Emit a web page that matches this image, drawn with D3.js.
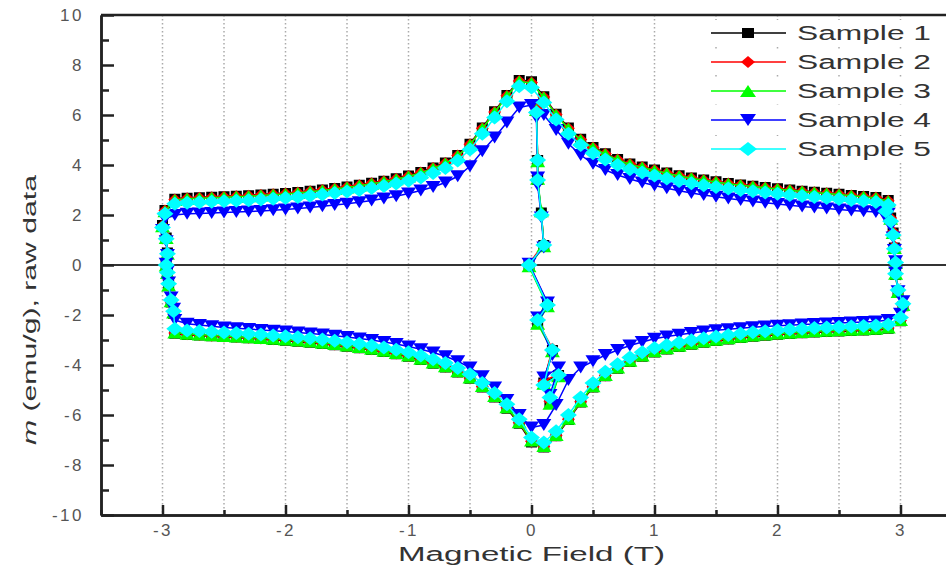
<!DOCTYPE html>
<html lang="en">
<head>
<meta charset="UTF-8">
<script src="https://cdn.jsdelivr.net/npm/d3@7"></script>
<title>Raw magnetisation loops</title>
<style>
    body { margin: 0; background: #fff; }
    svg { display: block; font-family: "Liberation Sans", Arial, sans-serif; }
    .axis path, .axis line { stroke: #222; stroke-width: 2.5; }
    .axis text { fill: #555; letter-spacing: 2.5px; }
</style>
</head>
<body>
<svg id="chart" width="946" height="569"></svg>
<script>
    // field values (T) of each branch
    var fieldsUpper = [2.9, 2.8, 2.7, 2.6, 2.5, 2.4, 2.3, 2.2, 2.1, 2.0, 1.9, 1.8, 1.7, 1.6, 1.5, 1.4, 1.3, 1.2, 1.1, 1.0,
        0.9, 0.8, 0.7, 0.6, 0.5, 0.4, 0.3, 0.2, 0.1, 0.0, -0.1, -0.2, -0.3, -0.4, -0.5, -0.6, -0.7, -0.8, -0.9, -1.0,
        -1.1, -1.2, -1.3, -1.4, -1.5, -1.6, -1.7, -1.8, -1.9, -2.0, -2.1, -2.2, -2.3, -2.4, -2.5, -2.6, -2.7, -2.8, -2.9];
    var fieldsLower = [-2.9, -2.8, -2.7, -2.6, -2.5, -2.4, -2.3, -2.2, -2.1, -2.0, -1.9, -1.8, -1.7, -1.6, -1.5, -1.4, -1.3, -1.2, -1.1, -1.0,
        -0.9, -0.8, -0.7, -0.6, -0.5, -0.4, -0.3, -0.2, -0.1, 0.0, 0.1, 0.2, 0.3, 0.4, 0.5, 0.6, 0.7, 0.8, 0.9, 1.0,
        1.1, 1.2, 1.3, 1.4, 1.5, 1.6, 1.7, 1.8, 1.9, 2.0, 2.1, 2.2, 2.3, 2.4, 2.5, 2.6, 2.7, 2.8, 2.9];
    var fieldsJumpPos = [3.00, 3.02, 2.98, 2.96, 2.96, 2.95, 2.94, 2.92, 2.88];
    var fieldsJumpNeg = [-2.98, -3.00, -2.97, -2.96, -2.97, -2.96, -2.95, -2.93, -2.91];
    var fieldsStart = [0.04, 0.05, 0.05, 0.08, 0.10, -0.02, 0.13, 0.05, 0.17, 0.10, 0.22, 0.15];

    // m (emu/g) per sample
    var upper1 = [2.60, 2.72, 2.76, 2.80, 2.85, 2.89, 2.93, 2.97, 3.02, 3.07, 3.12, 3.17, 3.22, 3.28, 3.35, 3.42, 3.50, 3.59, 3.70, 3.82,
        3.94, 4.06, 4.24, 4.47, 4.72, 5.05, 5.50, 6.05, 6.75, 7.35, 7.40, 6.80, 6.15, 5.50, 4.85, 4.40, 4.10, 3.90, 3.72, 3.58,
        3.47, 3.37, 3.29, 3.21, 3.14, 3.08, 3.02, 2.97, 2.92, 2.88, 2.85, 2.82, 2.79, 2.77, 2.75, 2.73, 2.71, 2.69, 2.65];
    var upper2 = [2.57, 2.70, 2.74, 2.78, 2.83, 2.87, 2.91, 2.95, 3.00, 3.05, 3.10, 3.15, 3.20, 3.26, 3.33, 3.40, 3.48, 3.57, 3.68, 3.80,
        3.92, 4.04, 4.22, 4.45, 4.70, 5.02, 5.47, 6.02, 6.72, 7.30, 7.36, 6.77, 6.12, 5.47, 4.83, 4.38, 4.08, 3.88, 3.70, 3.56,
        3.45, 3.35, 3.27, 3.19, 3.12, 3.06, 3.00, 2.95, 2.90, 2.86, 2.83, 2.80, 2.77, 2.75, 2.73, 2.71, 2.69, 2.67, 2.62];
    var upper3 = [2.55, 2.68, 2.73, 2.77, 2.82, 2.86, 2.90, 2.94, 2.99, 3.04, 3.09, 3.14, 3.19, 3.25, 3.32, 3.39, 3.47, 3.56, 3.67, 3.78,
        3.90, 4.02, 4.20, 4.43, 4.68, 5.00, 5.45, 6.00, 6.70, 7.28, 7.34, 6.75, 6.10, 5.45, 4.81, 4.36, 4.06, 3.86, 3.68, 3.54,
        3.43, 3.33, 3.25, 3.17, 3.10, 3.04, 2.98, 2.93, 2.88, 2.84, 2.81, 2.78, 2.75, 2.73, 2.71, 2.69, 2.67, 2.65, 2.60];
    var upper4 = [2.05, 2.12, 2.15, 2.18, 2.22, 2.26, 2.30, 2.34, 2.39, 2.44, 2.49, 2.54, 2.60, 2.66, 2.73, 2.80, 2.88, 2.97, 3.07, 3.18,
        3.30, 3.44, 3.60, 3.80, 4.05, 4.40, 4.85, 5.40, 6.00, 6.40, 6.30, 5.70, 5.10, 4.55, 3.95, 3.55, 3.30, 3.12, 2.98, 2.86,
        2.75, 2.66, 2.58, 2.51, 2.45, 2.40, 2.35, 2.30, 2.26, 2.22, 2.19, 2.16, 2.14, 2.12, 2.10, 2.08, 2.06, 2.05, 2.00];
    var upper5 = [2.40, 2.52, 2.56, 2.60, 2.64, 2.68, 2.72, 2.76, 2.80, 2.85, 2.90, 2.95, 3.00, 3.06, 3.12, 3.19, 3.27, 3.36, 3.46, 3.58,
        3.70, 3.83, 4.00, 4.22, 4.47, 4.80, 5.25, 5.82, 6.50, 7.10, 7.15, 6.55, 5.90, 5.25, 4.62, 4.18, 3.88, 3.68, 3.50, 3.37,
        3.26, 3.16, 3.08, 3.00, 2.94, 2.88, 2.82, 2.77, 2.72, 2.68, 2.65, 2.62, 2.59, 2.57, 2.55, 2.53, 2.51, 2.49, 2.45];

    var lower1 = [-2.75, -2.80, -2.82, -2.85, -2.88, -2.90, -2.93, -2.96, -3.00, -3.03, -3.07, -3.11, -3.16, -3.21, -3.27, -3.33, -3.40, -3.48, -3.57, -3.67,
        -3.80, -3.95, -4.10, -4.30, -4.55, -4.90, -5.30, -5.75, -6.35, -7.10, -7.30, -6.85, -6.20, -5.50, -4.90, -4.45, -4.15, -3.88, -3.67, -3.50,
        -3.38, -3.28, -3.19, -3.11, -3.04, -2.98, -2.92, -2.87, -2.83, -2.79, -2.76, -2.73, -2.70, -2.68, -2.66, -2.64, -2.62, -2.60, -2.55];
    var lower2 = [-2.72, -2.77, -2.80, -2.83, -2.86, -2.88, -2.91, -2.94, -2.97, -3.00, -3.04, -3.08, -3.13, -3.18, -3.24, -3.30, -3.37, -3.45, -3.54, -3.64,
        -3.77, -3.92, -4.07, -4.27, -4.52, -4.86, -5.26, -5.71, -6.31, -7.05, -7.26, -6.82, -6.17, -5.47, -4.87, -4.42, -4.12, -3.85, -3.64, -3.47,
        -3.35, -3.25, -3.16, -3.08, -3.01, -2.95, -2.89, -2.84, -2.80, -2.76, -2.73, -2.70, -2.67, -2.65, -2.63, -2.61, -2.59, -2.57, -2.52];
    var lower3 = [-2.70, -2.75, -2.78, -2.81, -2.84, -2.86, -2.89, -2.92, -2.95, -2.98, -3.02, -3.06, -3.11, -3.16, -3.22, -3.28, -3.35, -3.43, -3.52, -3.62,
        -3.75, -3.90, -4.05, -4.25, -4.50, -4.84, -5.24, -5.69, -6.29, -7.02, -7.24, -6.80, -6.15, -5.45, -4.85, -4.40, -4.10, -3.83, -3.62, -3.45,
        -3.33, -3.23, -3.14, -3.06, -2.99, -2.93, -2.87, -2.82, -2.78, -2.74, -2.71, -2.68, -2.65, -2.63, -2.61, -2.59, -2.57, -2.55, -2.50];
    var lower4 = [-2.20, -2.35, -2.40, -2.45, -2.50, -2.53, -2.56, -2.60, -2.63, -2.66, -2.70, -2.74, -2.78, -2.83, -2.88, -2.94, -3.00, -3.08, -3.16, -3.26,
        -3.37, -3.50, -3.65, -3.85, -4.10, -4.45, -4.90, -5.40, -6.00, -6.50, -6.40, -5.60, -4.60, -4.10, -3.85, -3.60, -3.40, -3.22, -3.08, -2.95,
        -2.86, -2.79, -2.72, -2.66, -2.61, -2.57, -2.53, -2.49, -2.46, -2.43, -2.41, -2.38, -2.36, -2.34, -2.32, -2.30, -2.28, -2.26, -2.20];
    var lower5 = [-2.55, -2.62, -2.64, -2.67, -2.70, -2.72, -2.75, -2.78, -2.82, -2.85, -2.89, -2.93, -2.98, -3.03, -3.09, -3.15, -3.22, -3.30, -3.39, -3.49,
        -3.62, -3.77, -3.92, -4.12, -4.37, -4.72, -5.12, -5.57, -6.17, -6.90, -7.10, -6.65, -6.00, -5.30, -4.72, -4.27, -3.97, -3.70, -3.49, -3.32,
        -3.20, -3.10, -3.01, -2.93, -2.86, -2.80, -2.74, -2.69, -2.65, -2.61, -2.58, -2.55, -2.52, -2.50, -2.48, -2.46, -2.44, -2.42, -2.38];

    var jumpPos1 = [-2.25, -1.65, -1.10, -0.40, 0.10, 0.70, 1.30, 1.90, 2.35];
    var jumpPos2 = [-2.22, -1.62, -1.05, -0.38, 0.12, 0.75, 1.32, 1.88, 2.32];
    var jumpPos3 = [-2.20, -1.60, -1.08, -0.35, 0.08, 0.68, 1.28, 1.85, 2.30];
    var jumpPos4 = [-1.95, -1.45, -1.05, -0.30, 0.15, 0.60, 1.10, 1.55, 1.90];
    var jumpPos5 = [-2.10, -1.55, -1.00, -0.35, 0.10, 0.65, 1.20, 1.75, 2.15];

    var jumpNeg1 = [2.20, 1.60, 1.10, 0.50, 0.00, -0.30, -0.80, -1.50, -1.95];
    var jumpNeg2 = [2.18, 1.58, 1.12, 0.48, 0.02, -0.28, -0.78, -1.48, -1.92];
    var jumpNeg3 = [2.15, 1.55, 1.08, 0.45, -0.02, -0.32, -0.82, -1.45, -1.90];
    var jumpNeg4 = [1.85, 1.40, 0.95, 0.40, 0.05, -0.25, -0.70, -1.30, -1.75];
    var jumpNeg5 = [2.05, 1.50, 1.05, 0.45, 0.00, -0.30, -0.75, -1.40, -1.85];

    var start1 = [6.30, 4.20, 3.40, 2.10, 0.80, 0.00, -1.60, -2.30, -3.40, -4.70, -4.40, -5.50];
    var start2 = [6.25, 4.25, 3.35, 2.05, 0.85, 0.05, -1.55, -2.25, -3.35, -4.65, -4.35, -5.45];
    var start3 = [6.20, 4.15, 3.45, 2.15, 0.75, -0.05, -1.65, -2.35, -3.45, -4.75, -4.45, -5.55];
    var start4 = [5.90, 3.50, 3.20, 1.90, 0.70, 0.05, -1.50, -2.10, -3.60, -4.50, -4.10, -5.20];
    var start5 = [6.10, 4.20, 3.40, 2.00, 0.80, 0.00, -1.60, -2.20, -3.40, -4.80, -4.40, -5.30];

    var sampleNames = ["Sample 1", "Sample 2", "Sample 3", "Sample 4", "Sample 5"];
    var xTicks = [-3, -2, -1, 0, 1, 2, 3];
    var xMinorTicks = [-3.5, -2.5, -1.5, -0.5, 0.5, 1.5, 2.5, 3.5];
    var yTicks = [-10, -8, -6, -4, -2, 0, 2, 4, 6, 8, 10];
    var yMinorTicks = [-9, -7, -5, -3, -1, 1, 3, 5, 7, 9];
    var gridFields = [-3, -2.5, -2, -1.5, -1, -0.5, 0, 0.5, 1, 1.5, 2, 2.5, 3];

    var samples = [
        { name: sampleNames[0], color: "#000000", shape: "square", w: 11, h: 10, upper: upper1, lower: lower1, jp: jumpPos1, jn: jumpNeg1, start: start1 },
        { name: sampleNames[1], color: "#ff0000", shape: "diamond", w: 13, h: 12, upper: upper2, lower: lower2, jp: jumpPos2, jn: jumpNeg2, start: start2 },
        { name: sampleNames[2], color: "#00ff00", shape: "up", w: 15, h: 12, upper: upper3, lower: lower3, jp: jumpPos3, jn: jumpNeg3, start: start3 },
        { name: sampleNames[3], color: "#0000ff", shape: "down", w: 15, h: 12, upper: upper4, lower: lower4, jp: jumpPos4, jn: jumpNeg4, start: start4 },
        { name: sampleNames[4], color: "#00ffff", shape: "diamond", w: 17, h: 14, upper: upper5, lower: lower5, jp: jumpPos5, jn: jumpNeg5, start: start5 }
    ];

    var svg = d3.select("#chart");

    // scales, right part of the frame falls outside the picture
    var x = d3.scaleLinear().domain([-3.5, 3.5]).range([101, 962]);
    var y = d3.scaleLinear().domain([-10, 10]).range([515, 15]);

    // dotted vertical grid
    svg.append("g").selectAll("line")
        .data(gridFields)
        .enter().append("line")
        .attr("x1", function(d) { return x(d); })
        .attr("x2", function(d) { return x(d); })
        .attr("y1", y(10))
        .attr("y2", y(-10))
        .attr("stroke", "#aaa")
        .attr("stroke-width", 1.5)
        .attr("stroke-dasharray", "1.5,2.5");

    // zero line
    svg.append("line")
        .attr("x1", x(-3.5)).attr("x2", x(3.5))
        .attr("y1", y(0)).attr("y2", y(0))
        .attr("stroke", "#333").attr("stroke-width", 2);

    // top frame line
    svg.append("line")
        .attr("x1", x(-3.5)).attr("x2", x(3.5))
        .attr("y1", y(10)).attr("y2", y(10))
        .attr("stroke", "#222").attr("stroke-width", 2.5);

    // axes, ticks point into the plot
    var fmt = function(d) { return String(d); };
    var gx = svg.append("g").attr("class", "axis")
        .attr("transform", "translate(0," + y(-10) + ")")
        .call(d3.axisBottom(x).tickValues(xTicks).tickSizeInner(-10).tickSizeOuter(0).tickPadding(9).tickFormat(fmt));
    svg.append("g").attr("class", "axis")
        .attr("transform", "translate(0," + y(-10) + ")")
        .call(d3.axisBottom(x).tickValues(xMinorTicks).tickSizeInner(-5).tickSizeOuter(0).tickFormat(""));
    var gy = svg.append("g").attr("class", "axis")
        .attr("transform", "translate(" + x(-3.5) + ",0)")
        .call(d3.axisLeft(y).tickValues(yTicks).tickSizeInner(-13).tickSizeOuter(0).tickPadding(17).tickFormat(fmt));
    svg.append("g").attr("class", "axis")
        .attr("transform", "translate(" + x(-3.5) + ",0)")
        .call(d3.axisLeft(y).tickValues(yMinorTicks).tickSizeInner(-8).tickSizeOuter(0).tickFormat(""));
    gx.selectAll("text").attr("font-size", 17);
    gy.selectAll("text").attr("font-size", 17);

    // marker shapes centred on 0,0
    function markerPath(shape, w, h) {
        var a = w / 2, b = h / 2;
        if (shape == "square") { return "M" + (-a) + "," + (-b) + "H" + a + "V" + b + "H" + (-a) + "Z"; }
        if (shape == "diamond") { return "M0," + (-b) + "L" + a + ",0L0," + b + "L" + (-a) + ",0Z"; }
        if (shape == "up") { return "M0," + (-b) + "L" + a + "," + b + "L" + (-a) + "," + b + "Z"; }
        return "M0," + b + "L" + a + "," + (-b) + "L" + (-a) + "," + (-b) + "Z";
    }

    function pairs(fields, values) {
        return fields.map(function(f, i) { return [f, values[i]]; });
    }

    var line = d3.line()
        .x(function(d) { return x(d[0]); })
        .y(function(d) { return y(d[1]); });

    samples.forEach(function(s) {
        var lowerPts = pairs(fieldsLower, s.lower);
        var loop = lowerPts
            .concat(pairs(fieldsJumpPos, s.jp))
            .concat(pairs(fieldsUpper, s.upper))
            .concat(pairs(fieldsJumpNeg, s.jn));
        var startPts = pairs(fieldsStart, s.start);
        var g = svg.append("g");

        g.append("path")
            .attr("d", line(loop.concat([lowerPts[0]])))
            .attr("fill", "none")
            .attr("stroke", s.color)
            .attr("stroke-width", 1.5);
        g.append("path")
            .attr("d", line(startPts))
            .attr("fill", "none")
            .attr("stroke", s.color)
            .attr("stroke-width", 1.5);

        g.selectAll(".pt")
            .data(loop.concat(startPts))
            .enter().append("path")
            .attr("class", "pt")
            .attr("transform", function(d) { return "translate(" + x(d[0]) + "," + y(d[1]) + ")"; })
            .attr("d", markerPath(s.shape, s.w, s.h))
            .attr("fill", s.color);
    });

    // legend
    var legend = svg.append("g").selectAll("g")
        .data(samples)
        .enter().append("g")
        .attr("transform", function(d, i) { return "translate(0," + (33 + i * 29) + ")"; });
    legend.append("rect")
        .attr("x", 704).attr("y", -13).attr("width", 242).attr("height", 26)
        .attr("fill", "#fff");
    legend.append("line")
        .attr("x1", 711).attr("x2", 786)
        .attr("stroke", function(d) { return d.color; })
        .attr("stroke-width", 1.5);
    legend.append("path")
        .attr("transform", "translate(748,0)")
        .attr("d", function(d) { return markerPath(d.shape, d.w + 1, d.h); })
        .attr("fill", function(d) { return d.color; });
    legend.append("text")
        .attr("x", 797).attr("y", 7)
        .attr("font-size", 20)
        .attr("fill", "#333")
        .attr("textLength", 134)
        .attr("lengthAdjust", "spacingAndGlyphs")
        .text(function(d) { return d.name; });

    // axis titles
    svg.append("text")
        .attr("x", x(0)).attr("y", 561)
        .attr("text-anchor", "middle")
        .attr("font-size", 20)
        .attr("fill", "#333")
        .attr("textLength", 267)
        .attr("lengthAdjust", "spacingAndGlyphs")
        .text("Magnetic Field (T)");

    var yTitle = svg.append("text")
        .attr("transform", "translate(36,310) rotate(-90)")
        .attr("text-anchor", "middle")
        .attr("font-size", 19)
        .attr("fill", "#333")
        .attr("textLength", 270)
        .attr("lengthAdjust", "spacingAndGlyphs");
    yTitle.append("tspan").attr("font-style", "italic").text("m");
    yTitle.append("tspan").text(" (emu/g), raw data");
</script>
</body>
</html>
